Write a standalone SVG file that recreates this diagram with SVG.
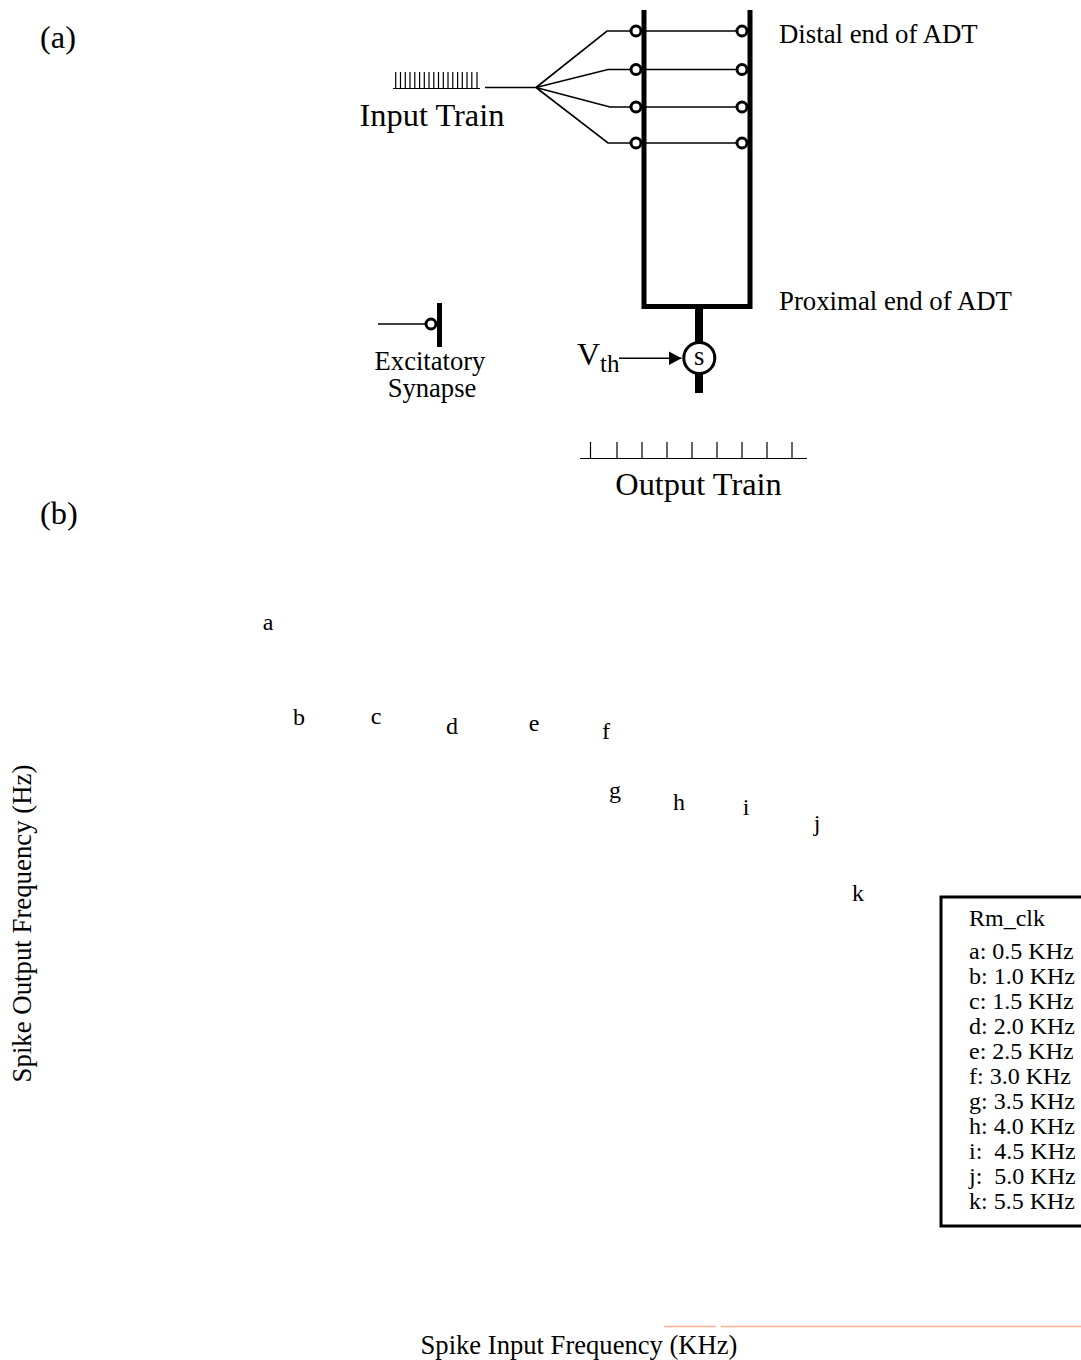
<svg xmlns="http://www.w3.org/2000/svg" width="1081" height="1360" viewBox="0 0 1081 1360">
<style>
text{font-family:"Liberation Serif","Times New Roman",serif;fill:#000}
.l{font-size:32.400px}.m{font-size:26.600px}.n{font-size:26.800px}.s{font-size:24px}
.c{text-anchor:middle}
.t{fill:none;stroke:#000;stroke-width:1.6}
.f{fill:none;stroke:#000;stroke-width:1.2}
.b{fill:none;stroke:#000;stroke-width:5}
.syn{fill:#fff;stroke:#000;stroke-width:3}
</style>
<defs>
<marker id="arr" markerUnits="userSpaceOnUse" markerWidth="14" markerHeight="14" refX="13" refY="7" orient="auto"><path d="M0 0L13 7L0 14Z"/></marker>
</defs>
<rect width="1081" height="1360" fill="#fff"/>
<g id="panel-labels">
<text class="l" x="40" y="48">(a)</text>
<text class="l" x="40" y="524">(b)</text>
</g>
<g id="connectors">
<path class="t" d="M485 87.500H536M536 87.500L607 31H636M536 87.500L608 69.500H636M536 87.500L610 107H636M536 87.500L608 143H636"/>
<path class="t" d="M644 31H742M644 69.500H742M644 107H742M644 143H742"/>
<path class="t" d="M378 324H426"/>
<path class="t" d="M619 358.300H681.500" marker-end="url(#arr)"/>
</g>
<g id="dendrite">
<path class="b" d="M644 10V306.500H750V10"/>
<path fill="none" stroke="#000" stroke-width="8" d="M699 306V393"/>
</g>
<g id="synapses">
<circle class="syn" cx="636" cy="31" r="5"/><circle class="syn" cx="636" cy="69.500" r="5"/><circle class="syn" cx="636" cy="107" r="5"/><circle class="syn" cx="636" cy="143" r="5"/>
<circle class="syn" cx="742" cy="31" r="5"/><circle class="syn" cx="742" cy="69.500" r="5"/><circle class="syn" cx="742" cy="107" r="5"/><circle class="syn" cx="742" cy="143" r="5"/>
</g>
<g id="input-train">
<path class="f" d="M393 88.500H480M395.700 72V88M400.500 72V88M405.300 72V88M410 72V88M414.800 72V88M419.600 72V88M424.300 72V88M429 72V88M433.800 72V88M438.500 72V88M443.300 72V88M448 72V88M452.800 72V88M457.600 72V88M462.300 72V88M467 72V88M471.800 72V88M477 72V88"/>
<text class="l c" x="432" y="126">Input Train</text>
</g>
<g id="excitatory-synapse">
<path class="b" d="M439.500 303V347"/>
<circle class="syn" cx="431" cy="324" r="5"/>
<text class="m c" x="430" y="370">Excitatory</text>
<text class="m c" x="432" y="397">Synapse</text>
</g>
<g id="soma">
<circle cx="699.300" cy="358" r="15.500" fill="#fff" stroke="#000" stroke-width="3"/>
<text class="m c" x="699.300" y="365">s</text>
</g>
<g id="vth">
<text x="577" y="364.500" font-size="32">V</text>
<text x="600" y="372" font-size="25">th</text>
</g>
<g id="output-train">
<path class="f" d="M580 458.500H807M590.500 442V458M617 442V458M642 442V458M667 442V458M692 442V458M717 442V458M742 442V458M767 442V458M792 442V458"/>
<text class="l c" x="698.500" y="495">Output Train</text>
</g>
<g id="end-labels">
<text class="n" x="779" y="43">Distal end of ADT</text>
<text class="n" x="779" y="310">Proximal end of ADT</text>
</g>
<g id="curve-labels">
<text class="s c" x="268" y="630">a</text>
<text class="s c" x="299" y="725">b</text>
<text class="s c" x="376" y="724">c</text>
<text class="s c" x="452" y="734">d</text>
<text class="s c" x="534" y="731">e</text>
<text class="s c" x="606" y="739">f</text>
<text class="s c" x="615" y="798">g</text>
<text class="s c" x="679" y="810">h</text>
<text class="s c" x="746" y="815">i</text>
<text class="s c" x="817" y="831">j</text>
<text class="s c" x="858" y="901">k</text>
</g>
<g id="legend">
<path fill="none" stroke="#000" stroke-width="3" d="M1081 897H941V1226H1081"/>
<text class="s" x="969" y="926">Rm_clk</text>
<text class="s" x="969" y="959">a: 0.5 KHz</text>
<text class="s" x="969" y="984">b: 1.0 KHz</text>
<text class="s" x="969" y="1009">c: 1.5 KHz</text>
<text class="s" x="969" y="1034">d: 2.0 KHz</text>
<text class="s" x="969" y="1059">e: 2.5 KHz</text>
<text class="s" x="969" y="1084">f: 3.0 KHz</text>
<text class="s" x="969" y="1109">g: 3.5 KHz</text>
<text class="s" x="969" y="1134">h: 4.0 KHz</text>
<text class="s" x="969" y="1159" xml:space="preserve">i:  4.5 KHz</text>
<text class="s" x="969" y="1184" xml:space="preserve">j:  5.0 KHz</text>
<text class="s" x="969" y="1209">k: 5.5 KHz</text>
</g>
<g id="axes">
<text class="n c" transform="translate(31 923.500) rotate(-90)">Spike Output Frequency (Hz)</text>
<text class="m c" x="579" y="1354">Spike Input Frequency (KHz)</text>
<path fill="none" stroke="#ffb090" stroke-width="1.500" d="M664 1326.500H716M721 1326.500H1081"/>
</g>
</svg>
